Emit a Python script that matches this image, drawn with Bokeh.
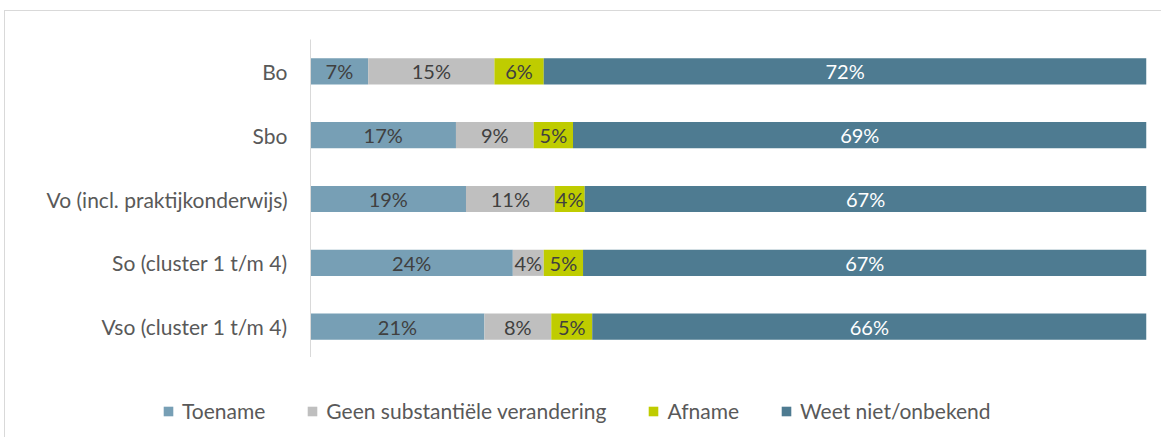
from bokeh.plotting import figure
from bokeh.models import ColumnDataSource, Legend, LegendItem
from bokeh.layouts import column
from bokeh.core.properties import value
from bokeh.embed import file_html
from bokeh.resources import INLINE
import numpy as np

categories = ["Bo", "Sbo", "Vo (incl. praktijkonderwijs)", "So (cluster 1 t/m 4)", "Vso (cluster 1 t/m 4)"]
series_names = ["Toename", "Geen substantiële verandering", "Afname", "Weet niet/onbekend"]
toename = [6.9, 17.4, 18.6, 24.2, 20.8]
geen = [15.1, 9.3, 10.6, 3.7, 8.0]
afname = [5.9, 4.7, 3.6, 4.7, 4.9]
weet = [72.1, 68.6, 67.2, 67.4, 66.3]
colors = ["#779fb5", "#bfbfbf", "#bfcc00", "#4e7b91"]
label_colors = ["#404040", "#404040", "#404040", "#ffffff"]

FONT = "Lato"
keys = ["toename", "geen", "afname", "weet"]
data = dict(cat=categories, toename=toename, geen=geen, afname=afname, weet=weet)
src = ColumnDataSource(data)

p = figure(y_range=list(reversed(categories)), x_range=(0, 100),
           frame_width=835, frame_height=318, output_backend="svg", toolbar_location=None,
           min_border_left=305, min_border_right=16, min_border_top=28, min_border_bottom=0)
p.margin = (10, 0, 0, 4)
p.styles = {"border-left": "1px solid #d9d9d9", "border-top": "1px solid #d9d9d9"}

renderers = p.hbar_stack(keys, y="cat", height=0.41, color=colors, source=src, line_color=None)

vals = np.array([toename, geen, afname, weet])
cum = np.cumsum(vals, axis=0)
for i in range(4):
    centers = cum[i] - vals[i] / 2
    lsrc = ColumnDataSource(dict(x=centers, y=categories,
                                 t=[f"{v:.0f}%" for v in vals[i]]))
    p.text(x="x", y="y", text="t", source=lsrc, text_align="center", text_baseline="middle",
           text_font=value(FONT), text_font_size="20px", text_color=label_colors[i])

p.xaxis.visible = False
p.xgrid.visible = False
p.ygrid.visible = False
p.outline_line_color = None
p.border_fill_color = "white"
ax = p.yaxis[0]
ax.major_tick_line_color = None
ax.minor_tick_line_color = None
ax.axis_line_color = "#d9d9d9"
ax.axis_line_width = 1
ax.major_label_text_font = FONT
ax.major_label_text_font_size = "21px"
ax.major_label_text_color = "#595959"
ax.major_label_standoff = 17

# legend strip below the chart
lg = figure(width=1156, height=80, x_range=(0, 1), y_range=(0, 1), output_backend="svg",
            toolbar_location=None, min_border=0)
lg.margin = (0, 0, 0, 4)
lg.styles = {"border-left": "1px solid #d9d9d9"}
lg.axis.visible = False
lg.grid.visible = False
lg.outline_line_color = None
for fig in (p, lg):
    if "frame_align" in fig.properties():
        fig.frame_align = False
dummy = [lg.hbar(y=[np.nan], right=[np.nan], height=0.5, color=c, line_color=None) for c in colors]

legend = Legend(items=[LegendItem(label=n, renderers=[r]) for n, r in zip(series_names, dummy)],
                orientation="horizontal", location=(157, 14), border_line_color=None,
                background_fill_alpha=0, label_text_font=FONT, label_text_font_size="21px",
                label_text_color="#595959", glyph_width=12, glyph_height=12,
                spacing=41, label_standoff=8, margin=0, padding=0)
lg.add_layout(legend, "center")

layout = column(p, lg, spacing=0)
open("out.html", "w").write(file_html(layout, INLINE))
